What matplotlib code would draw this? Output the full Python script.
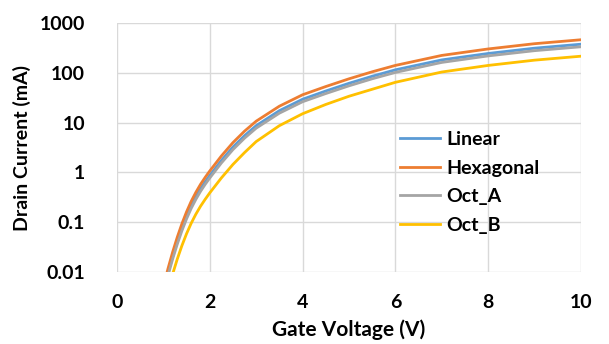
import matplotlib
matplotlib.use("Agg")
import matplotlib.pyplot as plt
from matplotlib.ticker import FixedLocator, FuncFormatter

# Gate sweep (V) and drain current (mA) for each layout
vg = [1.0, 1.1, 1.2, 1.3, 1.4, 1.5, 1.6, 1.7, 1.8, 1.9, 2.0, 2.25, 2.5, 2.75,
      3.0, 3.5, 4.0, 4.5, 5.0, 5.5, 6.0, 7.0, 8.0, 9.0, 10.0]
linear = [0.0041, 0.0095, 0.0204, 0.0407, 0.0758, 0.132, 0.214, 0.324, 0.467,
          0.646, 0.87, 1.74, 3.24, 5.49, 8.7, 17.4, 29.5, 43.2, 61.7, 85.4,
          115, 182, 245, 313, 376]
hexagonal = [0.0050, 0.0117, 0.0251, 0.0501, 0.0933, 0.162, 0.263, 0.398, 0.575,
             0.794, 1.07, 2.14, 3.98, 6.76, 10.7, 21.4, 36.3, 53.1, 75.9, 105,
             141, 224, 302, 385, 462]
oct_a = [0.0036, 0.0085, 0.0182, 0.0363, 0.0676, 0.117, 0.190, 0.288, 0.416,
         0.575, 0.775, 1.55, 2.88, 4.89, 7.75, 15.5, 26.3, 38.4, 54.9, 76,
         102, 162, 219, 279, 334]
oct_b = [0.0018, 0.0043, 0.0091, 0.0182, 0.0339, 0.0589, 0.0955, 0.145, 0.209,
         0.288, 0.389, 0.776, 1.45, 2.51, 4.17, 8.7, 15.1, 23.2, 33.9, 46.8,
         64.6, 104, 141, 180, 216]

series = [("Linear", linear, "#5B9BD5"),
          ("Hexagonal", hexagonal, "#ED7D31"),
          ("Oct_A", oct_a, "#A5A5A5"),
          ("Oct_B", oct_b, "#FFC000")]

plt.rcParams["font.family"] = ["Lato", "DejaVu Sans"]
plt.rcParams["font.weight"] = "bold"
fs = 14

fig = plt.figure(figsize=(6.09, 3.44), dpi=100)
ax = fig.add_axes([0.192, 0.209, 0.762, 0.724])

for name, cur, col in series:
    ax.plot(vg, cur, color=col, lw=2.0, label=name)

ax.set_yscale("log")
ax.set_xlim(0, 10)
ax.set_ylim(0.01, 1000)
ax.xaxis.set_major_locator(FixedLocator([0, 2, 4, 6, 8, 10]))
ax.yaxis.set_major_locator(FixedLocator([0.01, 0.1, 1, 10, 100, 1000]))
ax.yaxis.set_minor_locator(FixedLocator([]))
ax.yaxis.set_major_formatter(FuncFormatter(lambda v, p: "{:g}".format(v)))

ax.grid(True, color="#D9D9D9", lw=1.0)
ax.set_axisbelow(True)
for s in ax.spines.values():
    s.set_visible(False)
ax.tick_params(axis="both", length=0, labelsize=fs)
ax.tick_params(axis="y", pad=23)
ax.tick_params(axis="x", pad=16)
for lab in ax.get_xticklabels() + ax.get_yticklabels():
    lab.set_fontweight("bold")

ax.set_xlabel("Gate Voltage (V)", fontsize=15, fontweight="bold", labelpad=6)
ax.set_ylabel("Drain Current (mA)", fontsize=fs, fontweight="bold", labelpad=6)

ax.legend(loc="upper left", bbox_to_anchor=(0.61, 0.567), frameon=False,
          fontsize=fs, handlelength=2.05, handletextpad=0.35,
          labelspacing=0.6, borderpad=0, borderaxespad=0)

fig.savefig("out.png", dpi=100)
